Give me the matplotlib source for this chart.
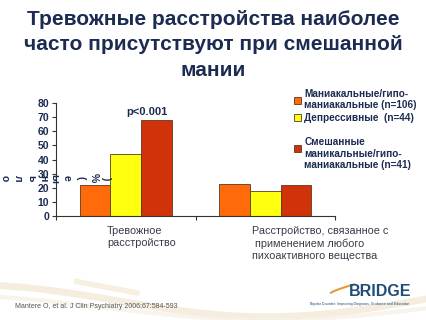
import matplotlib
matplotlib.use("Agg")
from matplotlib import pyplot as plt
from matplotlib.patches import Patch
import numpy as np

plt.rcParams['font.family'] = ['Liberation Sans', 'DejaVu Sans']

NAVY = "#1c2b52"

categories = ["Тревожное\nрасстройство",
              "Расстройство, связанное с\n применением любого\nпихоактивного вещества"]
series_names = ["Маниакальные/гипо-\nманиакальные (n=106)",
                "Депрессивные  (n=44)",
                "Смешанные\nманикальные/гипо-\nманиакальные (n=41)"]
manic = [22, 23]
depressive = [44, 18]
mixed = [68, 22]
colors = ["#ff6a0a", "#ffff10", "#d0320a"]
yticks = [0, 10, 20, 30, 40, 50, 60, 70, 80]

fig = plt.figure(figsize=(4.27, 3.2), dpi=100)
fig.patch.set_facecolor("white")

# background swoosh
bg = fig.add_axes([0, 0, 1, 1], zorder=-1)
bg.set_xlim(0, 1)
bg.set_ylim(0, 1)
bg.axis("off")
t = np.linspace(0, 1, 200)
bg.plot(t, 0.06 + 0.05 * np.sin(t * 4.5 + 1.9), color="#f3ead8", lw=5, alpha=0.8)
bg.plot(t, 0.04 + 0.04 * np.sin(t * 4.0 + 2.2), color="#f7f1e6", lw=3, alpha=0.8)
tt = np.linspace(0.18, 0.32, 50)
bg.plot(tt, 0.12 - 0.25 * (tt - 0.18), color="#f5ecd8", lw=4, alpha=0.8)

fig.text(0.5, 0.97, "Тревожные расстройства наиболее\nчасто присутствуют при смешанной\nмании",
         ha="center", va="top", fontsize=15, fontweight="bold", color=NAVY,
         linespacing=1.45)

ax = fig.add_axes([0.131, 0.325, 0.654, 0.353])
x = np.arange(len(categories))
w = 0.22
for i, (vals, c) in enumerate(zip([manic, depressive, mixed], colors)):
    ax.bar(x + (i - 1) * w, vals, width=w, color=c, edgecolor="#5a3a20", linewidth=0.6)

ax.set_xlim(-0.5, 1.5)
ax.set_ylim(0, 80)
ax.set_yticks(yticks)
ax.set_yticklabels([str(v) for v in yticks], fontsize=7.5, fontweight="bold", color=NAVY)
ax.set_xticks([-0.5, 0.5, 1.5])
ax.set_xticklabels(["", "", ""])
ax.tick_params(axis="x", direction="out", length=3, color="#333333")
ax.tick_params(axis="y", direction="out", length=3, color="#333333", pad=2)
for s in ["top", "right"]:
    ax.spines[s].set_visible(False)
ax.spines["left"].set_color("#333333")
ax.spines["bottom"].set_color("#333333")

ax.text(0.15, 70, "p<0.001", ha="center", va="bottom", fontsize=8,
        fontweight="bold", color=NAVY)

# category labels under the axis
fig.text(107 / 427, 1 - 226 / 320, categories[0], ha="left", va="top",
         fontsize=7.8, color="#3a3a4a", linespacing=1.3)
fig.text(252 / 427, 1 - 226 / 320, categories[1], ha="left", va="top",
         fontsize=7.8, color="#3a3a4a", linespacing=1.3)

# broken y label, one rotated character at a time
ylabel_chars = list("ольные(%)")
ylabel_x = [5, 18, 31, 43, 54, 67, 81, 94, 106]
for ch, px in zip(ylabel_chars, ylabel_x):
    fig.text(px / 427, 1 - 178 / 320, ch, rotation=270, ha="center", va="center",
             fontsize=7.5, fontweight="bold", color=NAVY)

handles = [Patch(facecolor=c, edgecolor="#5a3a20", linewidth=0.6) for c in colors]
labels = [series_names[0], series_names[1], "\n" + series_names[2]]
leg = fig.legend(handles, labels, loc="upper left", bbox_to_anchor=(0.68, 0.735),
                 frameon=False, fontsize=7.2, handlelength=0.7, handleheight=0.7,
                 handletextpad=0.3, labelspacing=0.25, borderaxespad=0)
for txt in leg.get_texts():
    txt.set_color(NAVY)
    txt.set_fontweight("bold")

fig.text(15 / 427, 1 - 307 / 320, "Mantere O, et al. J Clin Psychiatry 2006;67:584-593",
         ha="left", va="center", fontsize=5, color="#555555")
fig.text(349 / 427, 1 - 292 / 320, "BRIDGE", ha="left", va="center", fontsize=11.5,
         fontweight="bold", color="#1e4d78")
fig.text(310 / 427, 1 - 304 / 320,
         "Bipolar Disorder: Improving Diagnosis, Guidance and Education",
         ha="left", va="center", fontsize=2.5, color="#1e4d78")
lx = np.linspace(0.775, 0.83, 30)
bg.plot(lx, 0.085 + 0.9 * (lx - 0.775) ** 0.8 * 0.3, color="#e89a3a", lw=1.5)

fig.savefig("out.png", dpi=100)
